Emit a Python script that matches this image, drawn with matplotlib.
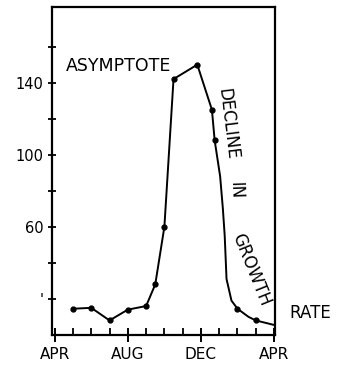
import matplotlib
matplotlib.use("Agg")
import matplotlib.pyplot as plt

plt.rcParams.update({
    "font.family": "DejaVu Sans",
    "font.size": 11,
    "axes.linewidth": 1.6,
})

# sampled months after April (0 = APR) and growth values
dot_months = [1, 2, 3, 4, 5, 5.5, 6, 6.5, 7.8, 8.6, 8.75, 10, 11]
dot_values = [14.5, 15, 8, 14, 16, 28, 60, 142, 150, 125, 108, 14.5, 8]

# hand-traced curve through the samples, including the steep decline
curve_months = [1, 2, 3, 4, 5, 5.5, 6, 6.5, 7.8, 8.6, 8.75, 9.05, 9.2, 9.3, 9.4, 9.67, 10, 10.6, 11, 12]
curve_values = [14.5, 15, 8, 14, 16, 28, 60, 142, 150, 125, 108, 88, 70, 55, 31, 19, 14.5, 10, 8, 5.5]

y_ticks = [20, 40, 60, 80, 100, 120, 140, 160]
y_labels = ["'", "", "60", "", "100", "", "140", ""]
x_major = [0, 4, 8, 12]
x_labels = ["APR", "AUG", "DEC", "APR"]
x_minor = [1, 2, 3, 5, 6, 7, 9, 10, 11]

fig = plt.figure(figsize=(3.42, 3.70), dpi=100, facecolor="white")
ax = fig.add_axes([0.152, 0.095, 0.652, 0.886])

ax.plot(curve_months, curve_values, color="black", lw=1.4,
        solid_capstyle="round", solid_joinstyle="round")
ax.plot(dot_months, dot_values, "o", color="black", ms=3.5)

ax.set_xlim(-0.15, 12.05)
ax.set_ylim(0, 182)

ax.set_yticks(y_ticks)
ax.set_yticklabels(y_labels)
ax.tick_params(axis="y", direction="inout", length=6, width=1.3, pad=3, labelsize=10.5)

ax.set_xticks(x_major)
ax.set_xticklabels(x_labels)
ax.set_xticks(x_minor, minor=True)
ax.tick_params(axis="x", which="major", direction="inout", length=10, width=1.4, pad=4, labelsize=11)
ax.tick_params(axis="x", which="minor", direction="in", length=5, width=1.3)

ax.text(6.4, 149, "ASYMPTOTE", ha="right", va="center", fontsize=12.5)
ax.text(9.45, 117, "DECLINE", ha="center", va="center", rotation=-83, fontsize=12)
ax.text(9.9, 80, "IN", ha="center", va="center", rotation=-88, fontsize=12)
ax.text(10.75, 36, "GROWTH", ha="center", va="center", rotation=-68, fontsize=12)
ax.text(14.0, 12, "RATE", ha="center", va="center", fontsize=12, clip_on=False)

fig.savefig("out.png", dpi=100, facecolor="white")
plt.close(fig)
